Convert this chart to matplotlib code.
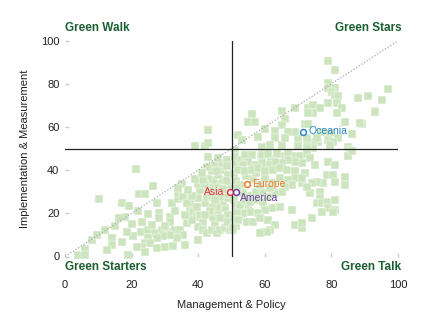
import matplotlib
matplotlib.use("Agg")
import matplotlib.pyplot as plt

plt.rcParams['font.family'] = ['Liberation Sans', 'DejaVu Sans']

# Scatter points (Management & Policy, Implementation & Measurement)
points = [
    (79.1,90.6),(81.1,86.4),(79.1,80.5),(79.1,77.9),(81.1,78.2),(80.1,76.4),(81.1,74.9),(82.1,74.5),
    (79.1,71.3),(81.6,71.3),(83.1,68.7),(81.6,66.4),(97.1,77.5),(91.1,74.5),(88.1,73.3),(95.1,72.5),
    (93.1,67.6),(89.1,61.4),(84.1,62.5),(86.1,56.8),(65.1,67.6),(69.1,68.7),(66.1,63.6),(65.1,60.9),
    (73.1,68.7),(74.6,70.2),(76.6,68.7),(74.6,66.4),(73.1,66.4),(72.1,61.4),(73.1,61.4),(77.1,57.8),
    (79.6,57.1),(82.1,54.8),(79.1,54.0),(80.6,52.9),(76.1,52.9),(74.6,52.9),(72.6,52.9),(70.1,52.9),
    (70.1,55.1),(72.6,55.1),(75.6,55.1),(74.6,50.4),(69.1,57.5),(67.1,57.5),(63.1,58.2),(63.1,55.1),
    (58.1,55.6),(60.1,59.1),(56.1,65.9),(55.1,62.5),(57.1,62.5),(52.1,56.3),(53.1,54.0),(59.1,50.9),
    (61.6,51.6),(65.1,51.6),(66.1,54.9),(85.1,50.9),(79.6,51.6),(70.1,51.2),(72.6,50.1),(88.6,61.7),
    (85.6,49.4),(93.1,67.1),(51.0,49.3),
    (43.0,58.6),(39.0,51.3),(42.0,51.3),(43.0,52.4),
    (21.3,40.5),(26.3,32.8),(35.0,33.6),(22.3,28.8),(23.9,28.8),(10.3,26.5),(17.0,24.6),(19.2,23.5),
    (27.5,24.6),(32.0,24.6),(34.0,26.5),(34.0,29.3),(34.0,31.6),(22.0,21.1),(18.0,18.4),(16.3,17.7),
    (28.3,20.3),(28.3,17.7),(31.5,18.4),(31.5,16.1),(23.0,16.1),(22.7,11.5),(25.0,12.3),(27.0,10.8),
    (29.0,12.3),(31.0,11.5),(33.0,12.3),(34.5,12.3),(35.5,10.0),(33.5,8.4),(31.5,10.0),(29.5,9.3),
    (27.5,8.4),(25.0,8.4),(24.0,6.4),(25.5,6.4),(23.0,4.5),(21.5,4.5),(19.0,0.7),(17.0,6.9),
    (14.0,8.4),(14.0,5.3),(12.5,3.0),(8.0,7.6),(6.0,3.5),(4.0,0.7),(6.0,0.7),(37.5,22.3),
    (37.5,25.4),(38.5,20.8),(39.5,18.4),(40.5,19.1),(41.5,16.1),(40.0,13.8),(41.5,12.3),(42.5,10.8),
    (40.0,7.6),(44.0,12.3),(45.0,15.4),(45.5,10.8),(46.5,12.3),(48.0,13.1),(49.5,12.3),(44.5,18.4),
    (46.0,20.0),(48.0,22.3),(47.5,25.4),(45.5,23.1),(44.0,23.1),(42.0,24.6),(40.0,26.9),(42.5,27.7),
    (43.0,30.8),(44.5,32.3),(46.0,33.8),(47.5,35.4),(44.5,35.4),(46.0,37.8),(47.5,40.1),(45.0,42.4),
    (47.0,43.2),(44.0,39.4),(49.0,37.8),(49.0,32.3),(49.0,26.9),(49.0,19.1),(49.5,15.4),(48.5,16.1),
    (46.5,17.7),(40.5,30.8),(40.0,33.8),
    (24.0,2.0),(27.6,4.0),(30.0,4.5),(32.5,5.0),(36.0,5.5),(20.5,9.5),(18.5,11.5),(12.0,12.5),
    (15.0,14.0),(9.5,10.0),(26.0,14.5),(30.0,14.0),(36.5,15.5),(38.0,17.0),(36.0,19.0),(33.0,21.0),
    (25.0,19.5),(20.0,15.0),(35.5,27.5),(36.5,25.0),
    (43.0,46.0),(46.0,45.5),(48.5,44.5),(42.5,41.5),(48.5,42.0),(43.0,36.0),(45.5,39.5),(48.5,35.0),
    (42.0,33.5),(46.0,30.0),(48.0,29.0),(44.0,28.0),(41.5,35.5),(43.5,21.0),(46.5,27.5),(45.0,26.0),
    (47.5,31.5),(42.0,19.0),(39.5,23.0),(38.0,28.0),(37.0,31.0),(39.0,36.0),(41.0,38.5),
    (51.0,46.0),(51.5,43.0),(50.8,38.0),(51.5,35.0),(52.5,33.0),(50.8,26.0),(51.5,24.0),(52.5,22.0),
    (50.8,18.0),(51.5,14.0),(53.0,18.5),(55.0,23.0),(56.0,28.0),(57.5,30.0),(58.5,33.0),(56.5,36.0),
    (54.5,37.5),(53.0,44.5),(57.5,38.5),(60.0,36.5),(62.5,34.0),(64.5,36.5),(59.0,46.0),(62.0,45.0),
    (66.0,46.5),(68.5,46.5),
    (54.1,47.0),(56.1,47.0),(59.1,47.0),(61.1,47.5),(63.6,47.5),(67.1,47.5),(70.6,46.6),(72.6,47.5),
    (73.6,45.5),(71.1,43.2),(69.1,44.0),(67.1,44.7),(65.1,43.2),(63.1,44.0),(61.1,42.5),(59.1,43.2),
    (57.1,42.5),(55.1,44.0),(53.6,42.5),(52.1,40.1),(54.1,39.4),(56.1,40.1),(58.1,40.9),(60.1,39.4),
    (62.6,40.1),(64.6,40.9),(66.6,40.1),(69.1,39.4),(72.1,38.6),(75.1,42.5),(79.1,44.0),(81.1,42.5),
    (78.6,37.8),(80.6,37.8),(84.1,37.0),(84.1,33.1),(81.1,34.6),(77.6,33.9),(75.6,34.6),(74.1,33.9),
    (71.1,33.9),(69.1,36.2),(67.1,35.4),(68.1,33.1),(66.1,32.3),(65.1,30.1),(63.1,29.3),(61.1,27.8),
    (59.6,29.3),(61.6,31.6),(73.6,29.3),(76.6,30.1),(76.6,27.0),(75.6,24.6),(77.1,24.6),(78.6,25.4),
    (79.1,22.3),(81.1,21.6),(81.1,26.2),(68.1,21.6),(64.6,23.1),(62.1,22.3),(60.1,21.6),(58.1,20.0),
    (55.6,20.8),(53.6,20.0),(51.6,20.8),(52.1,16.9),(54.6,16.1),(56.6,16.1),(58.6,17.7),(61.1,16.9),
    (63.1,14.6),(59.6,11.5),(61.6,12.3),(69.1,14.6),(71.1,13.1),(71.1,15.4),(74.1,17.7),(50.6,12.3),
    (52.6,23.9),(54.1,26.2),(55.6,25.4),(57.6,26.2),(59.6,25.4),(53.6,29.3),(51.6,31.6),(85.1,46.6),
    (86.1,48.9),(71.1,36.2),(72.6,32.3),(50.5,13.1),(60.6,11.5),(58.6,10.8),(77.1,20.8),(80.6,20.8),
]
mgmt = [p[0] for p in points]
impl = [p[1] for p in points]

regions = ["Asia", "Europe", "America", "Oceania"]
region_x = [49.5, 54.6, 51.4, 71.6]
region_y = [30.0, 33.5, 29.7, 57.8]
region_colors = ["#e8333c", "#f07a2b", "#6b3fa0", "#2b86c6"]

quadrant_labels = ["Green Walk", "Green Stars", "Green Starters", "Green Talk"]
ticks = [0, 20, 40, 60, 80, 100]

fig = plt.figure(figsize=(4.32, 3.28), dpi=100)
ax = fig.add_axes([65/432, 1-256.5/328, 333/432, 215.8/328])

ax.scatter(mgmt, impl, marker='s', s=28, color="#cde5bf", edgecolors="white",
           linewidths=0.3, zorder=1, clip_on=False)

ax.plot([50, 50], [0, 100], color="#222222", lw=0.9, zorder=3)
ax.plot([0, 100], [50, 50], color="#222222", lw=0.9, zorder=3)
ax.plot([0, 100], [0, 100], color="#aaaaaa", lw=0.9, ls=(0, (1, 1.5)), zorder=2)

for name, x, y, c in zip(regions, region_x, region_y, region_colors):
    ax.scatter([x], [y], s=18, facecolors="white", edgecolors=c, linewidths=1.1, zorder=4)
    if name == "Asia":
        ax.annotate(name, (x, y), xytext=(-4, 0), textcoords="offset points",
                    ha="right", va="center", color=c, fontsize=7.5, zorder=5)
    elif name == "America":
        ax.annotate(name, (x, y), xytext=(3, -4), textcoords="offset points",
                    ha="left", va="center", color=c, fontsize=7.5, zorder=5)
    else:
        ax.annotate(name, (x, y), xytext=(3.5, 0.5), textcoords="offset points",
                    ha="left", va="center", color=c, fontsize=7.5, zorder=5)

ax.set_xlim(0, 100)
ax.set_ylim(0, 100)
ax.set_xticks(ticks)
ax.set_yticks(ticks)
ax.tick_params(axis='both', direction='in', length=3, width=1, color="#cccccc",
               labelsize=8, labelcolor="#222222")
ax.tick_params(axis='x', pad=17)
ax.tick_params(axis='y', pad=4)
for s in ax.spines.values():
    s.set_visible(False)

ax.set_xlabel("Management & Policy", fontsize=8, color="#222222", labelpad=7)
ax.set_ylabel("Implementation & Measurement", fontsize=8, color="#222222", labelpad=8)

qc = "#1b5e32"
ax.text(0, 1.059, quadrant_labels[0], transform=ax.transAxes, ha="left", va="center",
        fontsize=8.5, fontweight="bold", color=qc)
ax.text(1.01, 1.059, quadrant_labels[1], transform=ax.transAxes, ha="right", va="center",
        fontsize=8.5, fontweight="bold", color=qc)
ax.text(0, -0.049, quadrant_labels[2], transform=ax.transAxes, ha="left", va="center",
        fontsize=8.5, fontweight="bold", color=qc)
ax.text(1.01, -0.049, quadrant_labels[3], transform=ax.transAxes, ha="right", va="center",
        fontsize=8.5, fontweight="bold", color=qc)

fig.savefig("out.png", dpi=100, facecolor="white")
